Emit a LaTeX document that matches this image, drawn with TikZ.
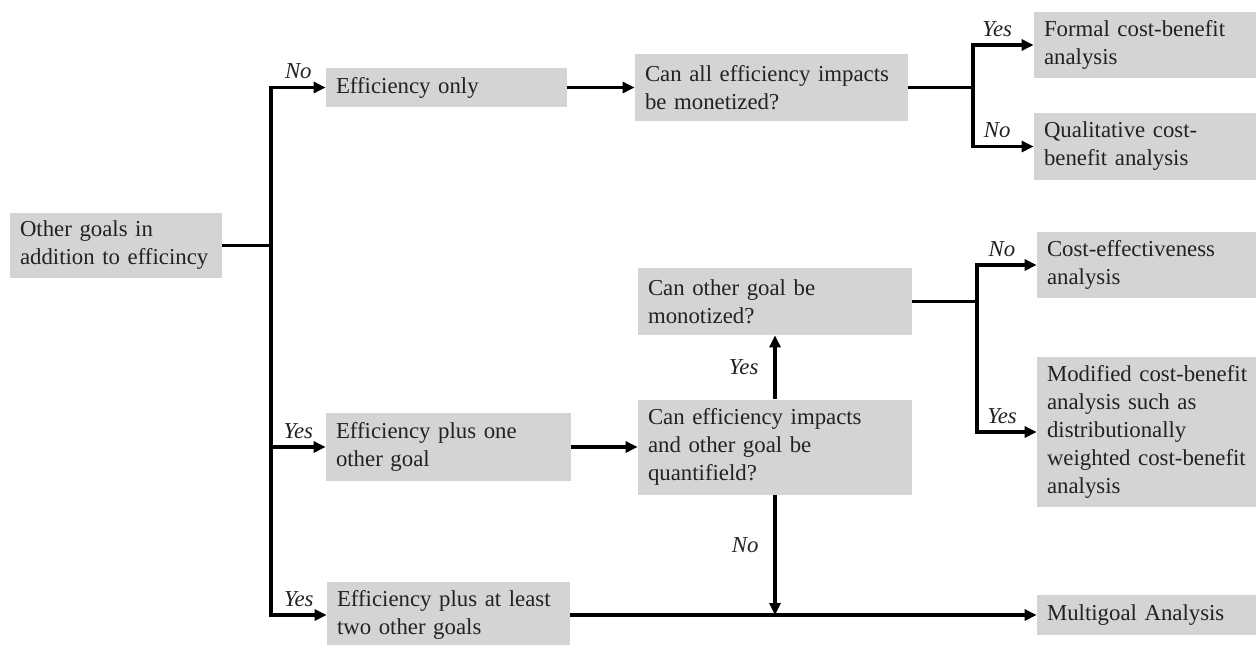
\documentclass[tikz,border=0pt]{standalone}
\usepackage{fontspec}
\setmainfont{Liberation Serif}
\usepackage{tikz}
\usetikzlibrary{arrows.meta,positioning}
\definecolor{boxgray}{RGB}{212,212,212}
\definecolor{inkgray}{RGB}{34,34,34}

\begin{document}
\begin{tikzpicture}[
  x=0.5pt, y=-0.5pt,
  font=\fontsize{11.4}{14}\selectfont,
  box/.style={fill=boxgray, text=inkgray, rectangle, inner xsep=5pt, inner ysep=2pt, align=left},
  link/.style={line width=1.6pt, black},
  arr/.style={link, -{Triangle[length=6pt, width=5.5pt]}},
  lbl/.style={font=\fontsize{11.4}{14}\selectfont\itshape, text=inkgray, inner sep=3.5pt}
]
\useasboundingbox (0,0) rectangle (1256,644);

% Root question
\node[box, text width=96pt, minimum height=32.5pt] (goals) at (116,245.5) {Other goals in\\addition to efficincy};

% Column 1: goal situations
\node[box, text width=110.5pt, minimum height=19.5pt] (effonly) at (446.5,87.5) {Efficiency only};
\node[box, text width=112.5pt, minimum height=34pt] (effone) at (448.5,447) {Efficiency plus one\\other goal};
\node[box, text width=111.5pt, minimum height=33pt] (efftwo) at (448.5,615) {Efficiency plus at least\\two other goals};

% Column 2: questions
\node[box, text width=126.5pt, minimum height=33.5pt] (canall) at (771.5,87.5) {Can all efficiency impacts\\be monetized?};
\node[box, text width=127pt, minimum height=33.5pt] (canother) at (775,301.5) {Can other goal be\\monotized?};
\node[box, text width=127pt, minimum height=47.5pt] (canquant) at (775,447) {Can efficiency impacts\\and other goal be\\quantifield?};

% Column 3: methods
\node[box, text width=103pt, minimum height=33pt] (formal) at (1147,45) {Formal cost-benefit\\analysis};
\node[box, text width=103pt, minimum height=33.5pt] (qual) at (1147,146.5) {Qualitative cost-\\benefit analysis};
\node[box, text width=101.5pt, minimum height=33pt] (costeff) at (1148.5,265) {Cost-effectiveness\\analysis};
\node[box, text width=101.5pt, minimum height=75pt] (modified) at (1148.5,432) {Modified cost-benefit\\analysis such as\\distributionally\\weighted cost-benefit\\analysis};
\node[box, text width=101.5pt, minimum height=20pt] (multi) at (1148.5,615) {Multigoal Analysis};

% Trunk from the root
\coordinate (trunk) at (271,245.5);
\draw[link] (goals.east) -- (trunk);
\draw[arr] (trunk) |- node[lbl, above, pos=0.75] {No} (effonly.west);
\draw[arr] (trunk) |- node[lbl, above, pos=0.75] {Yes} (effone.west);
\draw[arr] (trunk) |- node[lbl, above, pos=0.75] {Yes} (efftwo.west);

% Efficiency only branch
\draw[arr] (effonly) -- (canall);
\coordinate (split1) at (973,87.5);
\draw[link] (canall.east) -- (split1);
\draw[arr] (split1) |- node[lbl, above, pos=0.7] {Yes} (formal.west);
\draw[arr] (split1) |- node[lbl, above, pos=0.7] {No} (qual.west);

% One other goal branch
\draw[arr] (effone) -- (canquant);
\draw[arr] (canquant) -- node[lbl, left=4pt] {Yes} (canother);
\coordinate (split2) at (977,301.5);
\draw[link] (canother.east) -- (split2);
\draw[arr] (split2) |- node[lbl, above, pos=0.71] {No} (costeff.west);
\draw[arr] (split2) |- node[lbl, above, pos=0.71] {Yes} (modified.west);

% Two or more goals branch
\draw[arr] (efftwo) -- (multi);
\coordinate (join) at (canquant.south |- multi.west);
\draw[arr] (canquant) -- node[lbl, left=4pt, pos=0.42] {No} (join);

\end{tikzpicture}
\end{document}
